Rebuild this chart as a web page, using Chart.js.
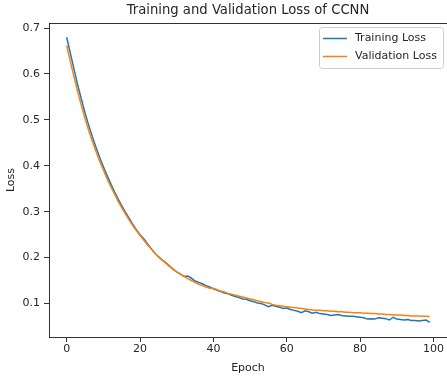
<!DOCTYPE html>
<html>
<head>
<meta charset="utf-8">
<script src="https://cdn.jsdelivr.net/npm/chart.js@4"></script>
<style>
  html, body { margin: 0; padding: 0; background: #fff; }
  #wrap { width: 447px; height: 377px; }
</style>
</head>
<body>
<div id="wrap"><canvas id="lossChart" width="447" height="377"></canvas></div>
<script>
const chartTitle = 'Training and Validation Loss of CCNN';
const epochs = Array.from({ length: 100 }, (_, i) => i);

const trainLoss = [
  0.680, 0.645, 0.610, 0.576, 0.545, 0.515, 0.488, 0.463, 0.440, 0.418,
  0.398, 0.379, 0.361, 0.344, 0.328, 0.313, 0.299, 0.286, 0.273, 0.261,
  0.250, 0.241, 0.230, 0.220, 0.210, 0.202, 0.195, 0.189, 0.182, 0.175,
  0.169, 0.164, 0.159, 0.160, 0.155, 0.149, 0.146, 0.143, 0.139, 0.136,
  0.132, 0.129, 0.126, 0.123, 0.121, 0.118, 0.115, 0.113, 0.110, 0.109,
  0.106, 0.104, 0.101, 0.100, 0.097, 0.093, 0.096, 0.094, 0.092, 0.089,
  0.090, 0.087, 0.085, 0.083, 0.080, 0.084, 0.082, 0.079, 0.081, 0.078,
  0.077, 0.076, 0.074, 0.075, 0.076, 0.074, 0.073, 0.072, 0.072, 0.071,
  0.070, 0.069, 0.066, 0.067, 0.066, 0.069, 0.068, 0.067, 0.064, 0.070,
  0.066, 0.065, 0.064, 0.065, 0.063, 0.063, 0.062, 0.063, 0.064, 0.059
];

const valLoss = [
  0.662, 0.627, 0.593, 0.561, 0.531, 0.503, 0.477, 0.453, 0.431, 0.410,
  0.391, 0.372, 0.355, 0.339, 0.323, 0.309, 0.295, 0.282, 0.270, 0.259,
  0.248, 0.238, 0.228, 0.219, 0.210, 0.202, 0.195, 0.188, 0.181, 0.175,
  0.169, 0.164, 0.159, 0.154, 0.150, 0.146, 0.142, 0.139, 0.136, 0.133,
  0.133, 0.130, 0.127, 0.125, 0.122, 0.120, 0.118, 0.116, 0.114, 0.112,
  0.110, 0.108, 0.106, 0.104, 0.102, 0.101, 0.098, 0.096, 0.095, 0.094,
  0.093, 0.092, 0.091, 0.090, 0.089, 0.088, 0.087, 0.086, 0.085, 0.085,
  0.084, 0.084, 0.083, 0.083, 0.082, 0.082, 0.081, 0.081, 0.080, 0.080,
  0.080, 0.079, 0.079, 0.078, 0.078, 0.077, 0.077, 0.076, 0.076, 0.075,
  0.075, 0.075, 0.074, 0.074, 0.073, 0.073, 0.073, 0.072, 0.072, 0.071
];

const xTicks = [0, 20, 40, 60, 80, 100];
const yTicks = [0.1, 0.2, 0.3, 0.4, 0.5, 0.6, 0.7];

const FONT = "'DejaVu Sans', sans-serif";
const TEXT = '#262626';

// title centred over the axes, plus the top spine and the legend box
const framePlugin = {
  id: 'frame',
  afterDraw(chart) {
    const { ctx, chartArea: a } = chart;
    ctx.save();
    ctx.fillStyle = TEXT;
    ctx.font = '13.2px ' + FONT;
    ctx.textAlign = 'center';
    ctx.textBaseline = 'middle';
    ctx.fillText(chartTitle, (a.left + a.right) / 2, 11);

    ctx.strokeStyle = '#000';
    ctx.lineWidth = 0.8;
    ctx.beginPath();
    ctx.moveTo(a.left, a.top + 0.5);
    ctx.lineTo(a.right, a.top + 0.5);
    ctx.stroke();

    // legend
    const bx = 319, by = 27, bw = 124, bh = 41;
    ctx.fillStyle = 'rgba(255,255,255,0.8)';
    ctx.strokeStyle = '#cccccc';
    ctx.lineWidth = 1;
    ctx.beginPath();
    ctx.roundRect(bx + 0.5, by + 0.5, bw, bh, 3);
    ctx.fill();
    ctx.stroke();
    ctx.font = '11px ' + FONT;
    ctx.textAlign = 'left';
    chart.data.datasets.forEach((ds, i) => {
      const ly = 38.5 + i * 18;
      ctx.strokeStyle = ds.borderColor;
      ctx.lineWidth = 1.5;
      ctx.beginPath();
      ctx.moveTo(323, ly);
      ctx.lineTo(347, ly);
      ctx.stroke();
      ctx.fillStyle = TEXT;
      ctx.fillText(ds.label, 355, ly);
    });
    ctx.restore();
  }
};

new Chart(document.getElementById('lossChart'), {
  type: 'line',
  data: {
    datasets: [
      {
        label: 'Training Loss',
        data: epochs.map((e, i) => ({ x: e, y: trainLoss[i] })),
        borderColor: '#1f77b4',
        borderWidth: 1.5,
        pointRadius: 0,
        tension: 0,
        order: 1
      },
      {
        label: 'Validation Loss',
        data: epochs.map((e, i) => ({ x: e, y: valLoss[i] })),
        borderColor: '#ff7f0e',
        borderWidth: 1.5,
        pointRadius: 0,
        tension: 0,
        order: 0
      }
    ]
  },
  options: {
    responsive: false,
    animation: false,
    layout: { padding: { top: 23, right: 0, left: 0, bottom: 0 } },
    plugins: {
      legend: { display: false },
      title: { display: false },
      tooltip: { enabled: false }
    },
    scales: {
      x: {
        type: 'linear',
        min: -4.83,
        max: 103.7,
        afterBuildTicks: (s) => { s.ticks = xTicks.map(v => ({ value: v })); },
        afterFit: (s) => { s.height = 40; },
        ticks: { color: TEXT, font: { family: FONT, size: 11 }, padding: 1, maxRotation: 0 },
        grid: { drawOnChartArea: false, drawTicks: true, tickLength: 5, color: '#000', tickWidth: 0.8 },
        border: { display: true, color: '#000', width: 0.8 },
        title: { display: true, text: 'Epoch', color: TEXT, font: { family: FONT, size: 11 }, padding: { top: 0, bottom: 2 } }
      },
      y: {
        min: 0.027,
        max: 0.711,
        afterBuildTicks: (s) => { s.ticks = yTicks.map(v => ({ value: v })); },
        afterFit: (s) => { s.width = 49; },
        ticks: { color: TEXT, font: { family: FONT, size: 11 }, padding: 4, callback: (v) => v.toFixed(1) },
        grid: { drawOnChartArea: false, drawTicks: true, tickLength: 5, color: '#000', tickWidth: 0.8 },
        border: { display: true, color: '#000', width: 0.8 },
        title: { display: true, text: 'Loss', color: TEXT, font: { family: FONT, size: 11 }, padding: { top: 5, bottom: 0 } }
      }
    }
  },
  plugins: [framePlugin]
});
</script>
</body>
</html>
